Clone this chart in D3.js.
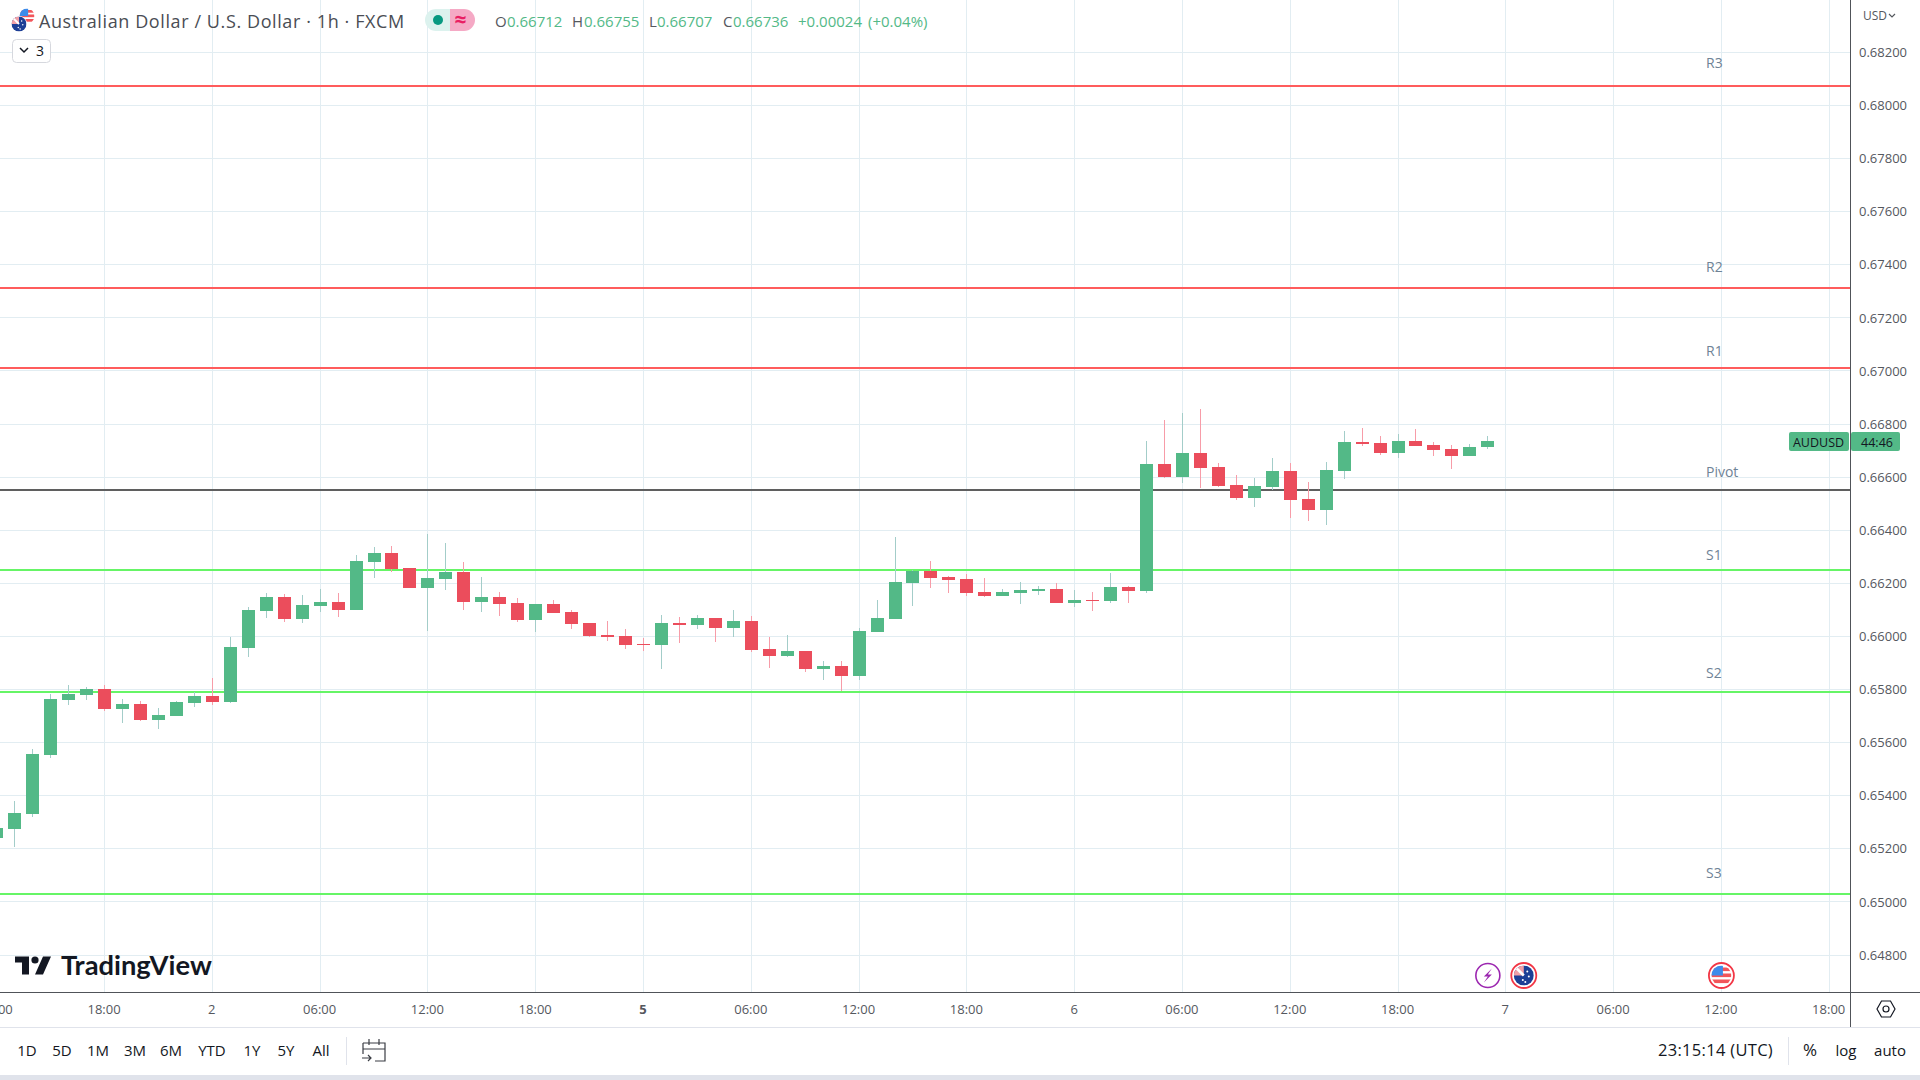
<!DOCTYPE html>
<html>
<head>
<meta charset="utf-8">
<title>AUDUSD</title>
<script src="https://cdn.jsdelivr.net/npm/d3@7"></script>
<style>
	html, body { margin: 0; padding: 0; background: #fff; overflow: hidden; }
	svg { display: block; font-family: "Open Sans", sans-serif; }
</style>
</head>
<body>
<svg id="chart" width="1920" height="1080"></svg>
<script>
// candles, in bar order, first bar is partly off the left edge
var barIndex = d3.range(-1, 83);
var opens = [
	0.65240, 0.65274, 0.65331, 0.65553, 0.65761, 0.65779, 0.65802, 0.65727, 0.65745, 0.65685, 0.65700, 0.65749,
	0.65776, 0.65753, 0.65957, 0.66096, 0.66149, 0.66066, 0.66115, 0.66130, 0.66100, 0.66281, 0.66315, 0.66258,
	0.66183, 0.66217, 0.66243, 0.66130, 0.66149, 0.66126, 0.66062, 0.66122, 0.66092, 0.66051, 0.66006, 0.66002,
	0.65972, 0.65968, 0.66051, 0.66043, 0.66070, 0.66032, 0.66058, 0.65953, 0.65926, 0.65945, 0.65877, 0.65889,
	0.65851, 0.66017, 0.66066, 0.66202, 0.66247, 0.66224, 0.66217, 0.66168, 0.66153, 0.66164, 0.66171, 0.66179,
	0.66126, 0.66137, 0.66134, 0.66186, 0.66171, 0.66650, 0.66601, 0.66691, 0.66639, 0.66571, 0.66522, 0.66563,
	0.66624, 0.66518, 0.66477, 0.66624, 0.66733, 0.66729, 0.66691, 0.66737, 0.66722, 0.66707, 0.66680, 0.66712
];
var highs = [
	0.65289, 0.65380, 0.65576, 0.65783, 0.65817, 0.65810, 0.65817, 0.65764, 0.65757, 0.65730, 0.65757, 0.65791,
	0.65843, 0.65998, 0.66111, 0.66164, 0.66160, 0.66156, 0.66179, 0.66164, 0.66307, 0.66337, 0.66341, 0.66258,
	0.66386, 0.66352, 0.66281, 0.66224, 0.66168, 0.66145, 0.66122, 0.66137, 0.66100, 0.66051, 0.66058, 0.66028,
	0.65994, 0.66081, 0.66073, 0.66081, 0.66070, 0.66100, 0.66077, 0.65998, 0.66006, 0.65945, 0.65907, 0.65907,
	0.66032, 0.66137, 0.66375, 0.66250, 0.66284, 0.66228, 0.66235, 0.66220, 0.66179, 0.66205, 0.66190, 0.66202,
	0.66175, 0.66168, 0.66239, 0.66190, 0.66737, 0.66816, 0.66842, 0.66857, 0.66654, 0.66609, 0.66597, 0.66673,
	0.66654, 0.66582, 0.66658, 0.66774, 0.66786, 0.66756, 0.66763, 0.66782, 0.66733, 0.66722, 0.66725, 0.66755
];
var lows = [
	0.65233, 0.65207, 0.65320, 0.65542, 0.65742, 0.65761, 0.65719, 0.65674, 0.65681, 0.65651, 0.65700, 0.65734,
	0.65742, 0.65749, 0.65923, 0.66070, 0.66055, 0.66051, 0.66092, 0.66073, 0.66100, 0.66220, 0.66243, 0.66183,
	0.66021, 0.66175, 0.66100, 0.66092, 0.66077, 0.66055, 0.66017, 0.66088, 0.66028, 0.65998, 0.65983, 0.65953,
	0.65945, 0.65877, 0.65975, 0.66028, 0.65979, 0.65998, 0.65941, 0.65881, 0.65923, 0.65866, 0.65836, 0.65794,
	0.65836, 0.66017, 0.66066, 0.66115, 0.66183, 0.66164, 0.66153, 0.66149, 0.66153, 0.66122, 0.66156, 0.66126,
	0.66111, 0.66096, 0.66126, 0.66126, 0.66164, 0.66597, 0.66578, 0.66560, 0.66563, 0.66514, 0.66488, 0.66552,
	0.66446, 0.66435, 0.66420, 0.66593, 0.66718, 0.66684, 0.66673, 0.66718, 0.66680, 0.66631, 0.66680, 0.66707
];
var closes = [
	0.65278, 0.65335, 0.65557, 0.65764, 0.65783, 0.65802, 0.65727, 0.65745, 0.65685, 0.65704, 0.65753, 0.65776,
	0.65753, 0.65960, 0.66100, 0.66149, 0.66066, 0.66119, 0.66130, 0.66100, 0.66284, 0.66315, 0.66254, 0.66183,
	0.66220, 0.66243, 0.66130, 0.66149, 0.66122, 0.66062, 0.66122, 0.66088, 0.66047, 0.66002, 0.65998, 0.65968,
	0.65968, 0.66051, 0.66043, 0.66070, 0.66032, 0.66058, 0.65949, 0.65926, 0.65945, 0.65877, 0.65889, 0.65851,
	0.66021, 0.66070, 0.66205, 0.66247, 0.66220, 0.66213, 0.66164, 0.66153, 0.66168, 0.66175, 0.66179, 0.66126,
	0.66137, 0.66134, 0.66186, 0.66171, 0.66650, 0.66601, 0.66691, 0.66635, 0.66567, 0.66522, 0.66567, 0.66624,
	0.66514, 0.66477, 0.66627, 0.66733, 0.66725, 0.66691, 0.66737, 0.66718, 0.66703, 0.66680, 0.66714, 0.66736
];

// pivot levels
var levelNames = ['R3', 'R2', 'R1', 'Pivot', 'S1', 'S2', 'S3'];
var levelPrices = [0.68075, 0.67314, 0.67012, 0.66552, 0.66250, 0.65791, 0.65029];

// axes
var priceTicks = [0.682, 0.680, 0.678, 0.676, 0.674, 0.672, 0.670, 0.668, 0.666, 0.664, 0.662, 0.660, 0.658, 0.656, 0.654, 0.652, 0.650, 0.648];
var timeTicks = [-1, 5, 11, 17, 23, 29, 35, 41, 47, 53, 59, 65, 71, 77, 83, 89, 95, 101];
var timeLabels = ['12:00', '18:00', '2', '06:00', '12:00', '18:00', '5', '06:00', '12:00', '18:00', '6', '06:00', '12:00', '18:00', '7', '06:00', '12:00', '18:00'];

// toolbars and legend
var rangeButtons = ['1D', '5D', '1M', '3M', '6M', 'YTD', '1Y', '5Y', 'All'];
var legendParts = ['O', '0.66712', 'H', '0.66755', 'L', '0.66707', 'C', '0.66736', '+0.00024', '(+0.04%)'];
var legendGreen = [false, true, false, true, false, true, false, true, true, true];

var chartModule = (function() {

	var svg = d3.select('#chart');

	var colors = {
		up: '#53b987',
		down: '#eb4d5c',
		upWick: '#a3cdc9',
		downWick: '#f79ca8',
		grid: '#e2edf2',
		border: '#505359',
		axisText: '#55585e',
		levelText: '#6f8396'
	};

	var paneRight = 1850, paneBottom = 992;

	var x = d3.scaleLinear().domain([0, 101]).range([14.7, 1829.2]);
	var y = d3.scaleLinear().domain([0.682, 0.648]).range([52.4, 955]);

	function px(i) {
		return Math.floor(x(i));
	}

	function drawGrid() {
		var grid = svg.append('g').attr('shape-rendering', 'crispEdges');

		grid.selectAll('.v').data(timeTicks).enter().append('line')
			.attr('x1', function(d) { return px(d) + 0.5; })
			.attr('x2', function(d) { return px(d) + 0.5; })
			.attr('y1', 0).attr('y2', paneBottom)
			.attr('stroke', colors.grid);

		grid.selectAll('.h').data(priceTicks).enter().append('line')
			.attr('x1', 0).attr('x2', paneRight)
			.attr('y1', function(d) { return Math.floor(y(d)) + 0.5; })
			.attr('y2', function(d) { return Math.floor(y(d)) + 0.5; })
			.attr('stroke', colors.grid);
	}

	function drawLevels() {
		var levels = svg.append('g');
		var labelBaseline = [68, 272, 356, 477, 560, 678, 878];
		var lineColor = function(i) {
			return i < 3 ? '#ff5c5c' : (i == 3 ? '#5f5f5f' : '#66f566');
		};

		levels.selectAll('line').data(levelPrices).enter().append('line')
			.attr('x1', 0).attr('x2', paneRight)
			.attr('y1', function(d) { return Math.round(y(d)); })
			.attr('y2', function(d) { return Math.round(y(d)); })
			.attr('stroke', function(d, i) { return lineColor(i); })
			.attr('stroke-width', 2)
			.attr('shape-rendering', 'crispEdges');

		levels.selectAll('text').data(levelNames).enter().append('text')
			.attr('x', 1706)
			.attr('y', function(d, i) { return labelBaseline[i]; })
			.attr('font-size', 14)
			.attr('fill', colors.levelText)
			.text(function(d) { return d; });
	}

	function drawCandles() {
		var bars = barIndex.map(function(d, i) {
			return { i: d, open: opens[i], high: highs[i], low: lows[i], close: closes[i] };
		});
		var isUp = function(d) { return d.close >= d.open; };

		var candle = svg.append('g').attr('shape-rendering', 'crispEdges')
			.selectAll('g').data(bars).enter().append('g');

		candle.append('rect')
			.attr('x', function(d) { return px(d.i); })
			.attr('width', 1)
			.attr('y', function(d) { return Math.round(y(d.high)); })
			.attr('height', function(d) { return Math.round(y(d.low)) - Math.round(y(d.high)); })
			.attr('fill', function(d) { return isUp(d) ? colors.upWick : colors.downWick; });

		candle.append('rect')
			.attr('x', function(d) { return px(d.i) - 6; })
			.attr('width', 13)
			.attr('y', function(d) { return Math.round(y(Math.max(d.open, d.close))); })
			.attr('height', function(d) {
				return Math.max(1, Math.round(y(Math.min(d.open, d.close))) - Math.round(y(Math.max(d.open, d.close))));
			})
			.attr('fill', function(d) { return isUp(d) ? colors.up : colors.down; });
	}

	function drawAxes() {
		var priceAxis = d3.axisRight(y).tickValues(priceTicks).tickSize(0).tickPadding(0)
			.tickFormat(d3.format('.5f'));
		var py = svg.append('g').attr('class', 'price-axis')
			.attr('transform', 'translate(1859,0)').call(priceAxis);
		py.select('.domain').remove();
		py.selectAll('text')
			.attr('font-family', '"Open Sans", sans-serif').attr('font-size', 13)
			.attr('fill', colors.axisText);

		var timeAxis = d3.axisBottom(x).tickValues(timeTicks).tickSize(0).tickPadding(0)
			.tickFormat(function(d, i) { return timeLabels[i]; });
		var tx = svg.append('g').attr('class', 'time-axis')
			.attr('transform', 'translate(-1,1004.5)').call(timeAxis);
		tx.select('.domain').remove();
		tx.selectAll('text')
			.attr('font-family', '"Open Sans", sans-serif').attr('font-size', 13)
			.attr('font-weight', function(d, i) { return timeLabels[i] == '5' ? 700 : 400; })
			.attr('fill', colors.axisText);

		var lines = svg.append('g').attr('shape-rendering', 'crispEdges');
		lines.append('line').attr('x1', paneRight + 0.5).attr('x2', paneRight + 0.5).attr('y1', 0).attr('y2', 1027).attr('stroke', colors.border);
		lines.append('line').attr('x1', 0).attr('x2', 1920).attr('y1', paneBottom + 0.5).attr('y2', paneBottom + 0.5).attr('stroke', colors.border);
		lines.append('line').attr('x1', 0).attr('x2', 1920).attr('y1', 1027.5).attr('y2', 1027.5).attr('stroke', '#e0e3eb');
		lines.append('rect').attr('x', 0).attr('y', 1075).attr('width', 1920).attr('height', 5).attr('fill', '#e0e3eb');
		lines.append('line').attr('x1', 346.5).attr('x2', 346.5).attr('y1', 1037).attr('y2', 1065).attr('stroke', '#e0e3eb');
		lines.append('line').attr('x1', 1788.5).attr('x2', 1788.5).attr('y1', 1037).attr('y2', 1065).attr('stroke', '#e0e3eb');

		// last price tag
		var lastY = 441.5;
		svg.append('rect').attr('x', 1789).attr('y', lastY - 9.5).attr('width', 60).attr('height', 19).attr('rx', 2).attr('fill', colors.up);
		svg.append('rect').attr('x', 1851).attr('y', lastY - 9.5).attr('width', 49).attr('height', 19).attr('rx', 2).attr('fill', colors.up);
		svg.append('text').attr('x', 1818.5).attr('y', lastY + 5).attr('text-anchor', 'middle').attr('font-size', 12.5).attr('fill', '#131722').text('AUDUSD');
		svg.append('text').attr('x', 1877).attr('y', lastY + 5).attr('text-anchor', 'middle').attr('font-size', 12.5).attr('fill', '#131722').text('44:46');

		svg.append('text').attr('x', 1863).attr('y', 20).attr('font-size', 12).attr('fill', '#55585e').text('USD');
		svg.append('path').attr('d', 'M1889 14l3 3 3-3').attr('fill', 'none').attr('stroke', '#55585e').attr('stroke-width', 1.2);
	}

	function flag(cx, cy, r, kind, parent) {
		var id = 'clip' + kind + Math.round(cx);
		parent.append('clipPath').attr('id', id).append('circle').attr('cx', cx).attr('cy', cy).attr('r', r);
		var g = parent.append('g').attr('clip-path', 'url(#' + id + ')');
		if (kind == 'au') {
			g.append('rect').attr('x', cx - r).attr('y', cy - r).attr('width', 2 * r).attr('height', 2 * r).attr('fill', '#1d3f96');
			g.append('rect').attr('x', cx - r).attr('y', cy - r).attr('width', r).attr('height', r).attr('fill', '#f0a0a8');
			g.append('path').attr('d', 'M' + (cx - r) + ' ' + (cy - r) + 'L' + cx + ' ' + cy).attr('stroke', '#fff').attr('stroke-width', r / 4);
			g.selectAll('.star').data([[0.35, -0.4], [0.5, 0.1], [-0.1, 0.45], [0.15, 0.65]]).enter().append('circle')
				.attr('cx', function(d) { return cx + d[0] * r; })
				.attr('cy', function(d) { return cy + d[1] * r; })
				.attr('r', r / 10).attr('fill', '#fff');
		} else {
			g.append('rect').attr('x', cx - r).attr('y', cy - r).attr('width', 2 * r).attr('height', 2 * r).attr('fill', '#fff');
			g.selectAll('.stripe').data([-0.8, -0.2, 0.4]).enter().append('rect')
				.attr('x', cx - r).attr('width', 2 * r)
				.attr('y', function(d) { return cy + d * r; })
				.attr('height', 0.36 * r).attr('fill', '#f2555a');
			g.append('rect').attr('x', cx - r).attr('y', cy - r).attr('width', 1.15 * r).attr('height', r).attr('fill', '#3d8bea');
		}
	}

	function drawEvents() {
		var g = svg.append('g');
		var eventY = 975.5;

		g.append('circle').attr('cx', x(82)).attr('cy', eventY).attr('r', 12).attr('fill', '#fff').attr('stroke', '#9c27b0').attr('stroke-width', 1.6);
		g.append('path').attr('d', 'M' + (x(82) + 4) + ' ' + (eventY - 7) + 'l-8 8h4l-4 6 8-8h-4z').attr('fill', '#9c27b0');

		g.append('circle').attr('cx', x(84)).attr('cy', eventY).attr('r', 12.5).attr('fill', '#fff').attr('stroke', '#f23645').attr('stroke-width', 1.8);
		flag(x(84), eventY, 10, 'au', g);

		g.append('circle').attr('cx', x(95)).attr('cy', eventY).attr('r', 12.5).attr('fill', '#fff').attr('stroke', '#f23645').attr('stroke-width', 1.8);
		flag(x(95), eventY, 10, 'us', g);
	}

	function drawHeader() {
		var g = svg.append('g');
		var legendX = [495, 507, 572, 584, 649, 657, 723, 733, 798, 868];

		flag(27, 16, 7.5, 'us', g);
		g.append('circle').attr('cx', 19).attr('cy', 24).attr('r', 8).attr('fill', '#fff');
		flag(19, 24, 7.5, 'au', g);

		g.append('text').attr('x', 39).attr('y', 27.5).attr('font-size', 18).attr('letter-spacing', 0.6).attr('fill', '#4a4d54')
			.text('Australian Dollar / U.S. Dollar \u00b7 1h \u00b7 FXCM');

		// open market / delayed pill
		g.append('clipPath').attr('id', 'pill').append('rect').attr('x', 425).attr('y', 9).attr('width', 50).attr('height', 22).attr('rx', 11);
		var pill = g.append('g').attr('clip-path', 'url(#pill)');
		pill.append('rect').attr('x', 425).attr('y', 9).attr('width', 25).attr('height', 22).attr('fill', '#dcf2ee');
		pill.append('rect').attr('x', 450).attr('y', 9).attr('width', 25).attr('height', 22).attr('fill', '#f5a9c5');
		g.append('circle').attr('cx', 438).attr('cy', 20).attr('r', 5).attr('fill', '#089981');
		g.append('text').attr('x', 460.5).attr('y', 27).attr('text-anchor', 'middle').attr('font-size', 21).attr('font-weight', 700).attr('fill', '#e91e63').text('\u2248');

		g.selectAll('.legend').data(legendParts).enter().append('text')
			.attr('x', function(d, i) { return legendX[i]; })
			.attr('y', 27)
			.attr('font-size', 15)
			.attr('fill', function(d, i) { return legendGreen[i] ? colors.up : '#55585e'; })
			.text(function(d) { return d; });

		// collapsed indicators button
		g.append('rect').attr('x', 12.5).attr('y', 39.5).attr('width', 38).attr('height', 23).attr('rx', 4).attr('fill', '#fff').attr('stroke', '#d6d8de');
		g.append('path').attr('d', 'M20 48l4 4 4-4').attr('fill', 'none').attr('stroke', '#131722').attr('stroke-width', 1.5);
		g.append('text').attr('x', 36).attr('y', 56).attr('font-size', 14).attr('fill', '#131722').text('3');
	}

	function drawLogo() {
		var g = svg.append('g').attr('transform', 'translate(15,950.5)').attr('fill', '#131722');
		g.append('path').attr('d', 'M14 6H0v6h7v12h7V6Zm14 18h-8L28 6h8L28 24Z');
		g.append('circle').attr('cx', 20).attr('cy', 9.5).attr('r', 3.6);
		svg.append('text').attr('x', 61).attr('y', 975).attr('font-family', 'Lato, sans-serif').attr('font-size', 27.3).attr('font-weight', 700).attr('fill', '#131722').text('TradingView');
	}

	function drawToolbar() {
		var g = svg.append('g');
		var rangeButtonX = [27, 62, 98, 135, 171, 212, 252, 286, 321];

		g.selectAll('.range').data(rangeButtons).enter().append('text')
			.attr('x', function(d, i) { return rangeButtonX[i]; })
			.attr('y', 1055.5)
			.attr('text-anchor', 'middle')
			.attr('font-size', 15)
			.attr('fill', '#131722')
			.text(function(d) { return d; });

		// go to date icon
		g.append('path').attr('d', 'M363 1043h22v18h-10M363 1043v11M363 1049h22M369 1039v6M379 1039v6M362 1058h9M368 1055l3 3-3 3')
			.attr('fill', 'none').attr('stroke', '#3a3d44').attr('stroke-width', 1.2);

		g.append('text').attr('x', 1658).attr('y', 1056).attr('font-size', 16.5).attr('letter-spacing', 0.3).attr('fill', '#131722').text('23:15:14 (UTC)');
		g.append('text').attr('x', 1810).attr('y', 1056).attr('text-anchor', 'middle').attr('font-size', 17).attr('fill', '#131722').text('%');
		g.append('text').attr('x', 1846).attr('y', 1055.5).attr('text-anchor', 'middle').attr('font-size', 15).attr('fill', '#131722').text('log');
		g.append('text').attr('x', 1890).attr('y', 1055.5).attr('text-anchor', 'middle').attr('font-size', 15).attr('fill', '#131722').text('auto');

		// settings hexagon
		g.append('path').attr('d', 'M1877 1009l4.5-8h9l4.5 8-4.5 8h-9z').attr('fill', 'none').attr('stroke', '#131722').attr('stroke-width', 1.2);
		g.append('circle').attr('cx', 1886).attr('cy', 1009).attr('r', 3).attr('fill', 'none').attr('stroke', '#131722').attr('stroke-width', 1.2);
	}

	function init() {
		drawGrid();
		drawLevels();
		drawCandles();
		drawAxes();
		drawEvents();
		drawHeader();
		drawLogo();
		drawToolbar();
	}

	return {
		init: init
	}
})();

chartModule.init();
</script>
</body>
</html>
